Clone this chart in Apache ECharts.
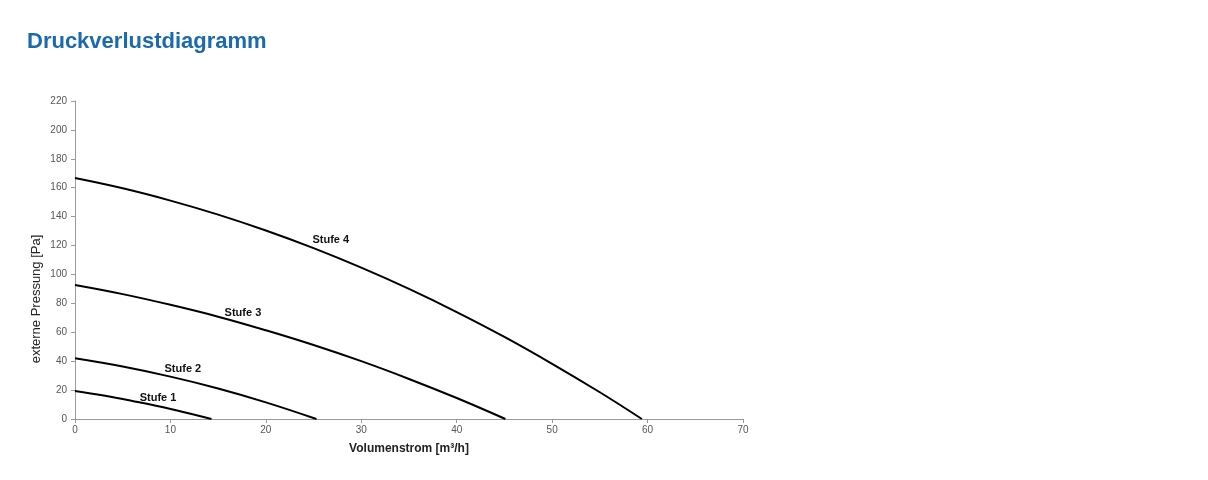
<!DOCTYPE html>
<html><head><meta charset="utf-8">
<script src="https://cdn.jsdelivr.net/npm/echarts@6/dist/echarts.min.js"></script>
<style>html,body{margin:0;padding:0;background:#fff}#c{width:1208px;height:480px}</style>
</head><body><div id="c"></div>
<script>
// Data: [Volumenstrom m³/h, externe Pressung Pa]
const stufe1 = [[0,19.4],[3,16.2],[6,12.5],[9,8.5],[12,3.8],[14.3,0]];
const stufe2 = [[0,42.0],[5,36.3],[10,29.3],[15,21.1],[20,11.5],[25.3,0]];
const stufe3 = [[0,92.7],[5,86.4],[10,79.0],[15,70.8],[20,61.4],[25,51.2],[30,40.0],[35,27.7],[40,14.5],[45.1,0]];
const stufe4 = [[0,166.7],[5,159.6],[10,151.1],[15,141.4],[20,130.4],[25,118.2],[30,104.7],[35,90.0],[40,74.0],[45,56.8],[50,38.2],[55,18.5],[59.4,0]];
const seriesNames = ['Stufe 1','Stufe 2','Stufe 3','Stufe 4'];
const titleText = 'Druckverlustdiagramm';
const xName = 'Volumenstrom [m³/h]';
const yName = 'externe Pressung [Pa]';

const labelPos = [[8.7,14.5],[11.3,34.6],[17.6,73.4],[26.8,123.9]];
const all = [stufe1, stufe2, stufe3, stufe4];

const chart = echarts.init(document.getElementById('c'), null, {renderer:'canvas'});
const tickFont = {color:'#555', fontSize:10, fontFamily:'Liberation Sans Narrow, Arial Narrow, Liberation Sans, sans-serif'};
chart.setOption({
  animation:false,
  backgroundColor:'#fff',
  title:{text:titleText, left:22, top:26, textStyle:{color:'#1b6aad', fontSize:22, fontWeight:'bold', fontFamily:'Liberation Sans, Arial, sans-serif'}},
  grid:{left:75, right:465, top:101, bottom:61, containLabel:false},
  xAxis:{type:'value', min:0, max:70, interval:10,
    name:xName, nameLocation:'middle', nameGap:24,
    nameTextStyle:{color:'#222', fontSize:12, fontWeight:'bold', fontFamily:'Liberation Sans, Arial, sans-serif'},
    axisLine:{lineStyle:{color:'#999', width:1}},
    axisTick:{show:true, length:4, lineStyle:{color:'#999'}},
    axisLabel:Object.assign({margin:6}, tickFont),
    splitLine:{show:false}},
  yAxis:{type:'value', min:0, max:220, interval:20,
    name:yName, nameLocation:'middle', nameGap:32, nameMoveOverlap:false,
    nameTextStyle:{color:'#222', fontSize:13, fontWeight:'normal', fontFamily:'Liberation Sans, Arial, sans-serif', padding:[0,78,0,0]},
    axisLine:{show:true, lineStyle:{color:'#999', width:1}},
    axisTick:{show:true, length:4, lineStyle:{color:'#999'}},
    axisLabel:Object.assign({margin:8}, tickFont),
    splitLine:{show:false}},
  series: all.map((d,i)=>({
    name:seriesNames[i], type:'line', data:d, smooth:0.4, showSymbol:false, symbol:'none',
    lineStyle:{color:'#000', width:2}, z:2,
    markPoint:{symbol:'circle', symbolSize:0, silent:true,
      label:{show:true, formatter:seriesNames[i], color:'#111', fontSize:11, fontWeight:'bold', fontFamily:'Liberation Sans, Arial, sans-serif', position:'inside'},
      data:[{coord:labelPos[i]}]}
  }))
});
</script></body></html>
